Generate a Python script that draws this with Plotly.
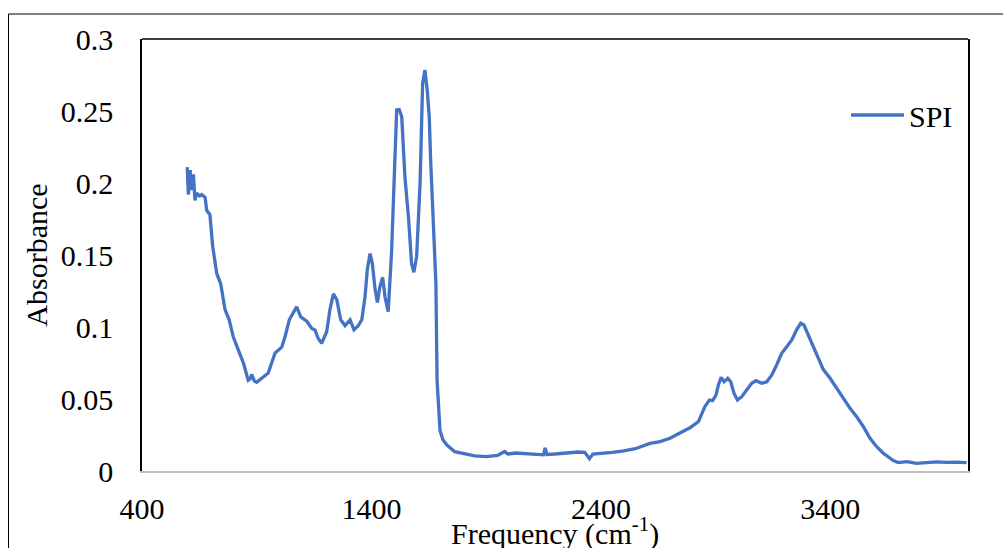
import plotly.graph_objects as go

# --- data ---
frequency = [597, 602, 610, 617, 624, 631, 638, 650, 660, 675, 682, 696, 708, 726, 743, 762, 780,
             798, 820, 842, 863, 872, 878, 890, 900, 929, 950, 965, 980, 1009, 1023, 1042, 1059,
             1074, 1092, 1118, 1140, 1154, 1168, 1183, 1205, 1219, 1234, 1249, 1266, 1285, 1307,
             1324, 1343, 1358, 1372, 1382, 1394, 1404, 1416, 1426, 1437, 1449, 1459, 1473, 1488,
             1503, 1510, 1521, 1532, 1546, 1561, 1575, 1585, 1597, 1612, 1623, 1633, 1643, 1652,
             1658, 1670, 1681, 1686, 1699, 1712, 1729, 1763, 1800, 1850, 1900, 1950, 1980, 1995,
             2030, 2080, 2120, 2150, 2157, 2165, 2200, 2250, 2300, 2330, 2350, 2365, 2400, 2450,
             2500, 2550, 2614, 2658, 2701, 2745, 2788, 2825, 2839, 2854, 2873, 2887, 2902, 2912,
             2924, 2937, 2953, 2966, 2980, 2995, 3014, 3036, 3057, 3076, 3101, 3123, 3145, 3166,
             3188, 3210, 3232, 3253, 3271, 3285, 3304, 3326, 3348, 3369, 3399, 3428, 3457, 3486,
             3515, 3544, 3573, 3602, 3631, 3653, 3674, 3696, 3733, 3776, 3820, 3864, 3907, 3950,
             3994]
absorbance = [0.211, 0.192, 0.209, 0.195, 0.206, 0.188, 0.193, 0.191, 0.192, 0.190, 0.181,
              0.178, 0.156, 0.137, 0.130, 0.112, 0.105, 0.093, 0.084, 0.075, 0.063, 0.064,
              0.067, 0.0625, 0.0616, 0.0655, 0.068, 0.075, 0.082, 0.086, 0.093, 0.105, 0.110,
              0.114, 0.107, 0.104, 0.099, 0.098, 0.092, 0.0887, 0.0967, 0.112, 0.123, 0.119,
              0.105, 0.101, 0.105, 0.098, 0.101, 0.105, 0.121, 0.140, 0.151, 0.144, 0.126,
              0.117, 0.128, 0.1345, 0.121, 0.1106, 0.153, 0.223, 0.2507, 0.251, 0.246, 0.204,
              0.177, 0.144, 0.138, 0.149, 0.200, 0.269, 0.2785, 0.2646, 0.246, 0.216, 0.172,
              0.130, 0.063, 0.028, 0.0215, 0.018, 0.0134, 0.012, 0.0105, 0.0100, 0.0108,
              0.0135, 0.0118, 0.0125, 0.0120, 0.0118, 0.0112, 0.0160, 0.0115, 0.0118, 0.0125,
              0.0132, 0.0130, 0.0085, 0.0118, 0.0122, 0.0130, 0.0140, 0.0155, 0.0192, 0.0204,
              0.0227, 0.0262, 0.030, 0.0343, 0.0389, 0.045, 0.0493, 0.0488, 0.0528, 0.0597,
              0.065, 0.062, 0.0644, 0.062, 0.054, 0.0493, 0.0516, 0.0563, 0.0609, 0.0627,
              0.0609, 0.062, 0.0667, 0.0736, 0.0817, 0.0863, 0.091, 0.098, 0.1026, 0.1014,
              0.0944, 0.0852, 0.0771, 0.0706, 0.0644, 0.0574, 0.0505, 0.0435, 0.0377, 0.0308,
              0.0227, 0.0169, 0.0123, 0.0099, 0.0072, 0.0058, 0.0065, 0.0053, 0.0058, 0.0063,
              0.006, 0.0062, 0.0058]
series_name = "SPI"
x_title = "Frequency (cm<sup>-1</sup>)"
y_title = "Absorbance"
x_tick_values = [400, 1400, 2400, 3400]
x_tick_labels = ["400", "1400", "2400", "3400"]
y_tick_values = [0, 0.05, 0.1, 0.15, 0.2, 0.25, 0.3]
y_tick_labels = ["0", "0.05", "0.1", "0.15", "0.2", "0.25", "0.3"]

FONT = "Liberation Serif, Times New Roman, serif"
L, R, T, B = 142, 36, 39, 77
W, H = 1004, 548
PW, PH = W - L - R, H - T - B


def px_x(p):
    return (p - L) / PW


def px_y(p):
    return (H - B - p) / PH


fig = go.Figure()
fig.add_trace(go.Scatter(x=frequency, y=absorbance, mode="lines", name=series_name,
                         line=dict(color="#4472C4", width=3.3)))

fig.update_layout(
    width=W, height=H,
    margin=dict(l=L, r=R, t=T, b=B, pad=0, autoexpand=False),
    paper_bgcolor="white", plot_bgcolor="white",
    font=dict(family=FONT, size=30, color="black"),
    showlegend=True,
    legend=dict(x=px_x(846), y=px_y(115), xanchor="left", yanchor="middle",
                itemwidth=53,
                bgcolor="rgba(0,0,0,0)", borderwidth=0, font=dict(size=30)),
    xaxis=dict(range=[400, 4000], tickvals=x_tick_values, ticktext=x_tick_labels,
               showgrid=False, zeroline=False, showline=True, linecolor="#BFBFBF",
               linewidth=2, mirror=False, ticks="", ticklabelstandoff=10,
               automargin=False),
    yaxis=dict(range=[0, 0.3], tickvals=y_tick_values, ticktext=y_tick_labels,
               showgrid=False, zeroline=False, showline=True, linecolor="black",
               linewidth=1.5, mirror=True, ticks="", ticklabelstandoff=21,
               automargin=False,
               title=dict(text=y_title, standoff=4, font=dict(size=30))),
    annotations=[
        dict(text=x_title, xref="paper", yref="paper", x=0.5, y=px_y(531),
             xanchor="center", yanchor="middle", showarrow=False,
             font=dict(family=FONT, size=30, color="black")),
    ],
    shapes=[
        # top border of plot area
        dict(type="line", xref="paper", yref="paper", x0=0, x1=1, y0=1, y1=1,
             line=dict(color="black", width=1.5)),
        # outer chart frame (left and top edges visible)
        dict(type="line", xref="paper", yref="paper", x0=px_x(8.5), x1=px_x(8.5),
             y0=px_y(14), y1=px_y(560), line=dict(color="black", width=1)),
        dict(type="line", xref="paper", yref="paper", x0=px_x(8.5), x1=px_x(1003),
             y0=px_y(14), y1=px_y(14), line=dict(color="black", width=1)),
    ],
)

fig.write_html("out.html")
